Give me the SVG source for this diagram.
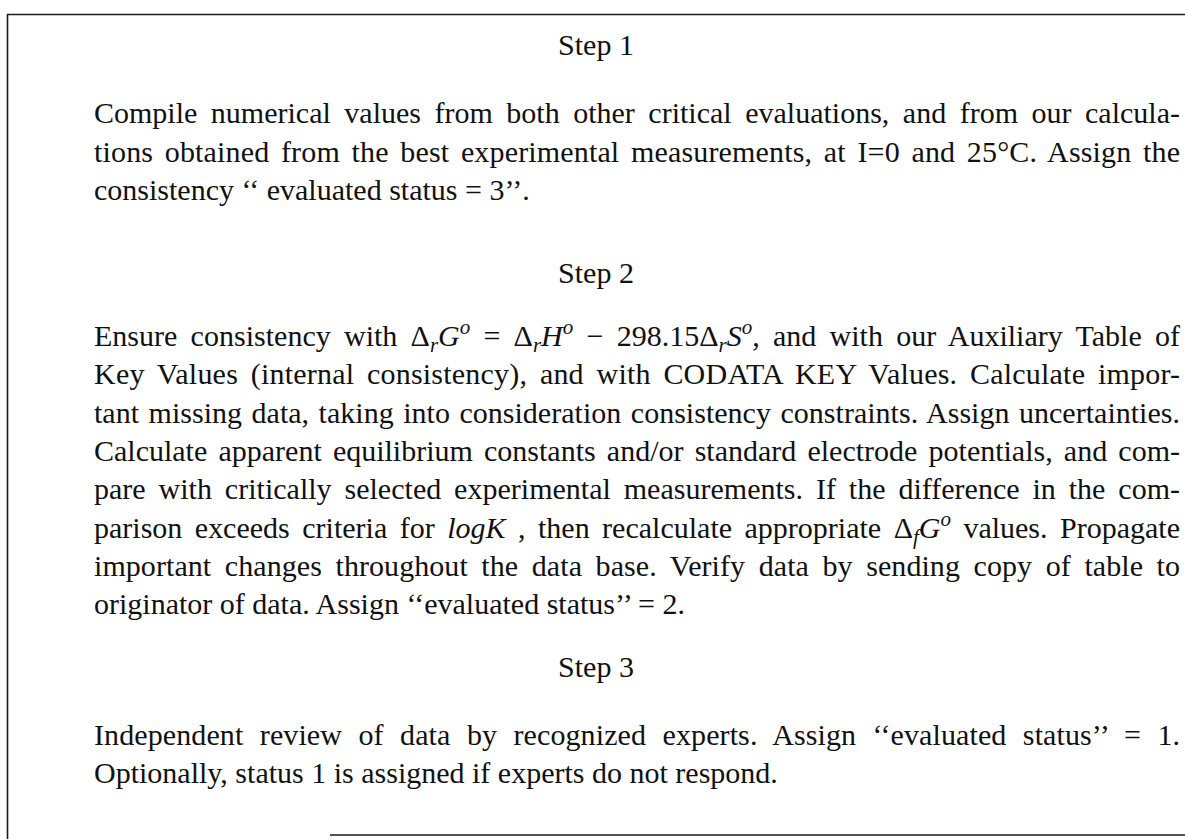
<svg xmlns="http://www.w3.org/2000/svg" width="1185" height="839" viewBox="0 0 1185 839">
  <style>
    text { font-family: "Liberation Serif", "Times New Roman", serif; font-size: 30px; fill: #111111; }
    .h { text-anchor: middle; }
    .i { font-style: italic; }
    .s { font-style: italic; font-size: 21px; }
    .frame { stroke: #1a1a1a; stroke-width: 1.6; fill: none; }
  </style>
  <rect width="1185" height="839" fill="#ffffff"/>

  <!-- outer frame: ruled top, left and bottom edges -->
  <g id="frame">
    <line class="frame" x1="7" y1="14.5" x2="1185" y2="14.5"/>
    <line class="frame" x1="7.5" y1="14" x2="7.5" y2="839"/>
    <line class="frame" x1="330" y1="835" x2="1185" y2="835"/>
  </g>

  <g id="step1">
    <text class="h" x="596" y="55">Step 1</text>
    <text x="94" y="123" textLength="1086" lengthAdjust="spacing" style="word-spacing:6px">Compile numerical values from both other critical evaluations, and from our calcula-</text>
    <text x="94" y="161.5" textLength="1086" lengthAdjust="spacing" style="word-spacing:4px">tions obtained from the best experimental measurements, at I=0 and 25°C.  Assign the</text>
    <text x="94" y="200">consistency ‘‘ evaluated status = 3’’.</text>
  </g>

  <g id="step2">
    <text class="h" x="596" y="283">Step 2</text>
    <text x="94" y="346" textLength="1086" lengthAdjust="spacing" style="word-spacing:5.7px">Ensure consistency with Δ<tspan class="s" dy="6">r</tspan><tspan class="i" dy="-6">G</tspan><tspan class="s" dy="-12">o</tspan><tspan dy="12"> = Δ</tspan><tspan class="s" dy="6">r</tspan><tspan class="i" dy="-6">H</tspan><tspan class="s" dy="-12">o</tspan><tspan dy="12"> − 298.15Δ</tspan><tspan class="s" dy="6">r</tspan><tspan class="i" dy="-6">S</tspan><tspan class="s" dy="-12">o</tspan><tspan dy="12">, and with our Auxiliary Table of</tspan></text>
    <text x="94" y="384.3" textLength="1086" lengthAdjust="spacing" style="word-spacing:5px">Key Values (internal consistency), and with CODATA KEY Values. Calculate impor-</text>
    <text x="94" y="422.6" textLength="1086" lengthAdjust="spacing" style="word-spacing:2px">tant missing data, taking into consideration consistency constraints. Assign uncertainties.</text>
    <text x="94" y="460.9" textLength="1086" lengthAdjust="spacing" style="word-spacing:3.7px">Calculate apparent equilibrium constants and/or standard electrode potentials, and com-</text>
    <text x="94" y="499.2" textLength="1086" lengthAdjust="spacing" style="word-spacing:5.4px">pare with critically selected experimental measurements. If the difference in the com-</text>
    <text x="94" y="537.5" textLength="1086" lengthAdjust="spacing" style="word-spacing:5px">parison exceeds criteria for <tspan class="i">logK</tspan> , then recalculate appropriate Δ<tspan class="s" dy="6">f</tspan><tspan class="i" dy="-6">G</tspan><tspan class="s" dy="-12">o</tspan><tspan dy="12"> values.  Propagate</tspan></text>
    <text x="94" y="575.8" textLength="1086" lengthAdjust="spacing" style="word-spacing:6px">important changes throughout the data base. Verify data by sending copy of table to</text>
    <text x="94" y="614">originator of data. Assign ‘‘evaluated status’’ = 2.</text>
  </g>

  <g id="step3">
    <text class="h" x="596" y="677">Step 3</text>
    <text x="94" y="745" textLength="1086" lengthAdjust="spacing" style="word-spacing:8.8px">Independent review of data by recognized experts. Assign ‘‘evaluated status’’ = 1.</text>
    <text x="94" y="783">Optionally, status 1 is assigned if experts do not respond.</text>
  </g>
</svg>
